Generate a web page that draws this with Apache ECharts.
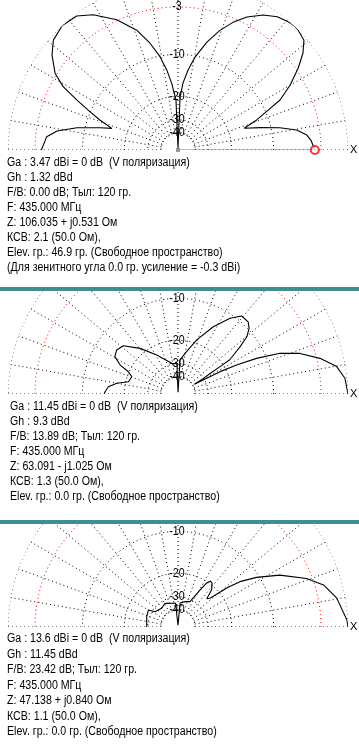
<!DOCTYPE html>
<html><head><meta charset="utf-8">
<script src="https://cdn.jsdelivr.net/npm/echarts@6/dist/echarts.min.js"></script>
<style>
html,body{margin:0;padding:0;background:#fff;width:359px;height:754px;overflow:hidden}
.p{position:absolute;left:0;width:359px}
.bar{position:absolute;left:0;width:359px;height:4px;background:#3f8f8f}
</style></head><body>
<div id="c1" class="p" style="top:0;height:287px"></div>
<div class="bar" style="top:287px"></div>
<div id="c2" class="p" style="top:291px;height:229px"></div>
<div class="bar" style="top:520px"></div>
<div id="c3" class="p" style="top:524px;height:230px"></div>
<script>
// ring levels (dB) and tick labels
const RING_DB = [0, -3, -10, -20, -30, -40];
const TICK_DB = [-3, -10, -20, -30, -40];
const TICK_LABELS = ['-3', '-10', '-20', '-30', '-40'];
const SPOKE_ANG = [0, 10, 20, 30, 40, 50, 60, 70, 80, 90, 100, 110, 120, 130, 140, 150, 160, 170, 180];
const SPOKE_FROM_DB = -40;
const AXIS_END_LABEL = 'X';

// Panel 1: elevation angle (deg) and gain (dB rel. max)
const P1_ANG = [0, 4, 6.6, 9.6, 12.3, 15.2, 18.2, 20.9, 23.9, 26.1, 30.1, 34.3, 37.8, 41.1, 45, 46.9, 48.8, 53.3, 57.8, 62.6, 66.7, 70.7, 75, 79.6, 82.9, 85.7, 87.8, 90,
  92.3, 95.4, 98, 100.9, 104.7, 109, 115.2, 122.1, 127.1, 132.9, 138.6, 143, 148.1, 151.1, 153.7, 156.5, 159, 161.9, 164, 167.6, 171.1, 174.2, 180];
const P1_DB = [-3.77, -4.2, -4.7, -6.0, -8.5, -12.0, -15.5, -12.2, -9.4, -7.0, -4.7, -2.7, -1.25, -0.3, -0.02, 0, -0.05, -0.4, -1.1, -2.2, -3.5, -5.1, -7.3, -10.2, -13.0, -16.1, -20.3, -80,
  -21.3, -16.2, -12.9, -10.1, -7.5, -5.1, -2.9, -1.1, -0.2, 0, -0.4, -1.3, -2.8, -4.5, -7.1, -9.9, -12.3, -15.5, -12.9, -8.6, -5.7, -4.4, -3.8];
const P1_MARK_ANG = [0];
const P1_MARK_DB = [-3.77];

// Panel 2
const P2_ANG = [0, 5.4, 9.8, 14.1, 18.4, 21.8, 24.4, 26.3, 28, 28.7, 29.5, 30.5, 31.5, 32.5, 33.1, 33.5, 37.3, 39.8, 42.7, 45.8, 50.8, 55.5, 62.3, 70.9, 80.2, 86.6, 89.5, 90.5, 92,
  101.6, 118.6, 129.7, 138.6, 144.3, 149.4, 153.4, 155.8, 159.5, 166.1, 170.1, 174, 178.2, 180];
const P2_DB = [0, -0.24, -0.94, -2.6, -4.85, -7.6, -11.8, -16.6, -22.1, -28.6, -33.5, -38, -31, -26, -21.2, -17.5, -13.5, -11.1, -9.8, -9.1, -9.1, -10.7, -14, -18.9, -24.6, -28, -80, -80, -30,
  -29.4, -23.3, -18.3, -14.7, -14.1, -14.6, -16.8, -19.8, -21.5, -20.9, -17.5, -15.4, -14.7, -14.5];

// Panel 3
const P3_ANG = [0, 2.4, 10.3, 16.1, 20.7, 27, 32.3, 36.2, 38.4, 41.9, 44.5, 47.7, 52, 54.8, 57, 59.3, 64.6, 74.5, 85, 90, 96, 101, 106, 118.7, 131.1, 146.4, 150.2, 161.8, 180];
const P3_DB = [0, -0.1, -0.9, -2.0, -3.7, -6.9, -10.5, -13.8, -17.0, -23.9, -25, -21.3, -19.5, -19.2, -20.5, -23.9, -31.3, -32.4, -34, -80, -34, -33.9, -34.8, -32, -33.4, -31.6, -27.9, -28.5, -29.4];

const P1_TEXT = [
  'Ga : 3.47 dBi = 0 dB  (V поляризация)',
  'Gh : 1.32 dBd',
  'F/B: 0.00 dB; Тыл: 120 гр.',
  'F: 435.000 МГц',
  'Z: 106.035 + j0.531 Ом',
  'КСВ: 2.1 (50.0 Ом),',
  'Elev. гр.: 46.9 гр. (Свободное пространство)',
  '(Для зенитного угла 0.0 гр. усиление = -0.3 dBi)'
];
const P2_TEXT = [
  'Ga : 11.45 dBi = 0 dB  (V поляризация)',
  'Gh : 9.3 dBd',
  'F/B: 13.89 dB; Тыл: 120 гр.',
  'F: 435.000 МГц',
  'Z: 63.091 - j1.025 Ом',
  'КСВ: 1.3 (50.0 Ом),',
  'Elev. гр.: 0.0 гр. (Свободное пространство)'
];
const P3_TEXT = [
  'Ga : 13.6 dBi = 0 dB  (V поляризация)',
  'Gh : 11.45 dBd',
  'F/B: 23.42 dB; Тыл: 120 гр.',
  'F: 435.000 МГц',
  'Z: 47.138 + j0.840 Ом',
  'КСВ: 1.1 (50.0 Ом),',
  'Elev. гр.: 0.0 гр. (Свободное пространство)'
];

const FONT = '12.5px "Liberation Sans", Arial, sans-serif';
const TEXT_SCALE_X = 0.85;
const TICK_FONT = '12.5px "Liberation Sans", Arial, sans-serif';
function toR(db) { return Math.pow(10, db / 40); }
const ARC = [];
for (let a = 0; a <= 180; a += 1) ARC.push(a);

function build(id, cy, ang, gains, lines, tx, ty, lh, mark) {
  const chart = echarts.init(document.getElementById(id), null, { renderer: 'canvas' });
  const dot = { width: 1, type: [1, 3] };
  const series = RING_DB.map(db => ({
    type: 'line', coordinateSystem: 'polar', silent: true, symbol: 'none', z: 1,
    data: ARC.map(a => [toR(db), a]),
    lineStyle: Object.assign({ color: db === -3 ? '#ff0000' : '#000000' }, dot)
  }));
  SPOKE_ANG.forEach(a => {
    series.push({
      type: 'line', coordinateSystem: 'polar', silent: true, symbol: 'none', z: 1,
      data: [[toR(SPOKE_FROM_DB), a], [1, a]],
      lineStyle: Object.assign({ color: '#000000' }, dot)
    });
  });
  if (mark) {
    series.push({
      type: 'line', coordinateSystem: 'polar', silent: true, symbol: 'none', z: 2,
      data: [[0, mark.ang[0]], [toR(mark.db[0]), mark.ang[0]]],
      lineStyle: { color: '#808080', width: 1 }
    });
    series.push({
      type: 'scatter', coordinateSystem: 'polar', silent: true, z: 3,
      symbol: 'rect', symbolSize: 4, itemStyle: { color: '#808080' },
      data: [[0, 0]]
    });
  }
  series.push({
    type: 'line', coordinateSystem: 'polar', silent: true, symbol: 'none', z: 4,
    data: ang.map((a, i) => [toR(gains[i]), a]),
    lineStyle: { color: '#000000', width: 1.1 }
  });
  if (mark) {
    series.push({
      type: 'scatter', coordinateSystem: 'polar', silent: true, z: 5,
      symbol: 'circle', symbolSize: 8,
      itemStyle: { color: '#ffffff', borderColor: '#ff0000', borderWidth: 2 },
      data: mark.ang.map((a, i) => [toR(mark.db[i]), a])
    });
  }
  chart.setOption({
    animation: false,
    backgroundColor: '#ffffff',
    polar: { center: [178, cy], radius: 170 },
    angleAxis: {
      type: 'value', min: 0, max: 180, startAngle: 0, endAngle: 180, clockwise: false, interval: 10,
      axisLine: { show: false }, axisTick: { show: false }, axisLabel: { show: false },
      splitLine: { show: false }
    },
    radiusAxis: {
      type: 'value', min: 0, max: 1,
      axisLine: { show: false }, axisTick: { show: false }, axisLabel: { show: false }, splitLine: { show: false }
    },
    series: series
  });
  const g = [];
  TICK_DB.forEach((db, i) => {
    const p = chart.convertToPixel({ polarIndex: 0 }, [toR(db), 90]);
    g.push({ type: 'text', x: p[0] - 1, y: p[1], z: 10, scaleX: TEXT_SCALE_X,
      style: { text: TICK_LABELS[i], font: TICK_FONT, fill: '#000', align: 'center', verticalAlign: 'middle' } });
  });
  const pe = chart.convertToPixel({ polarIndex: 0 }, [1, 0]);
  g.push({ type: 'text', x: pe[0] + 2, y: pe[1], z: 10,
    style: { text: AXIS_END_LABEL, font: '11px "Liberation Sans", Arial, sans-serif', fill: '#000', align: 'left', verticalAlign: 'middle' } });
  lines.forEach((t, i) => {
    g.push({ type: 'text', x: tx, y: ty + i * lh, z: 10, scaleX: TEXT_SCALE_X,
      style: { text: t, font: FONT, fill: '#000', align: 'left', verticalAlign: 'middle' } });
  });
  chart.setOption({ graphic: g });
}

build('c1', 150, P1_ANG, P1_DB, P1_TEXT, 7, 163, 15, { ang: P1_MARK_ANG, db: P1_MARK_DB });
build('c2', 103, P2_ANG, P2_DB, P2_TEXT, 10, 116, 15, null);
build('c3', 103, P3_ANG, P3_DB, P3_TEXT, 7, 115, 15.5, null);
</script>
</body></html>
